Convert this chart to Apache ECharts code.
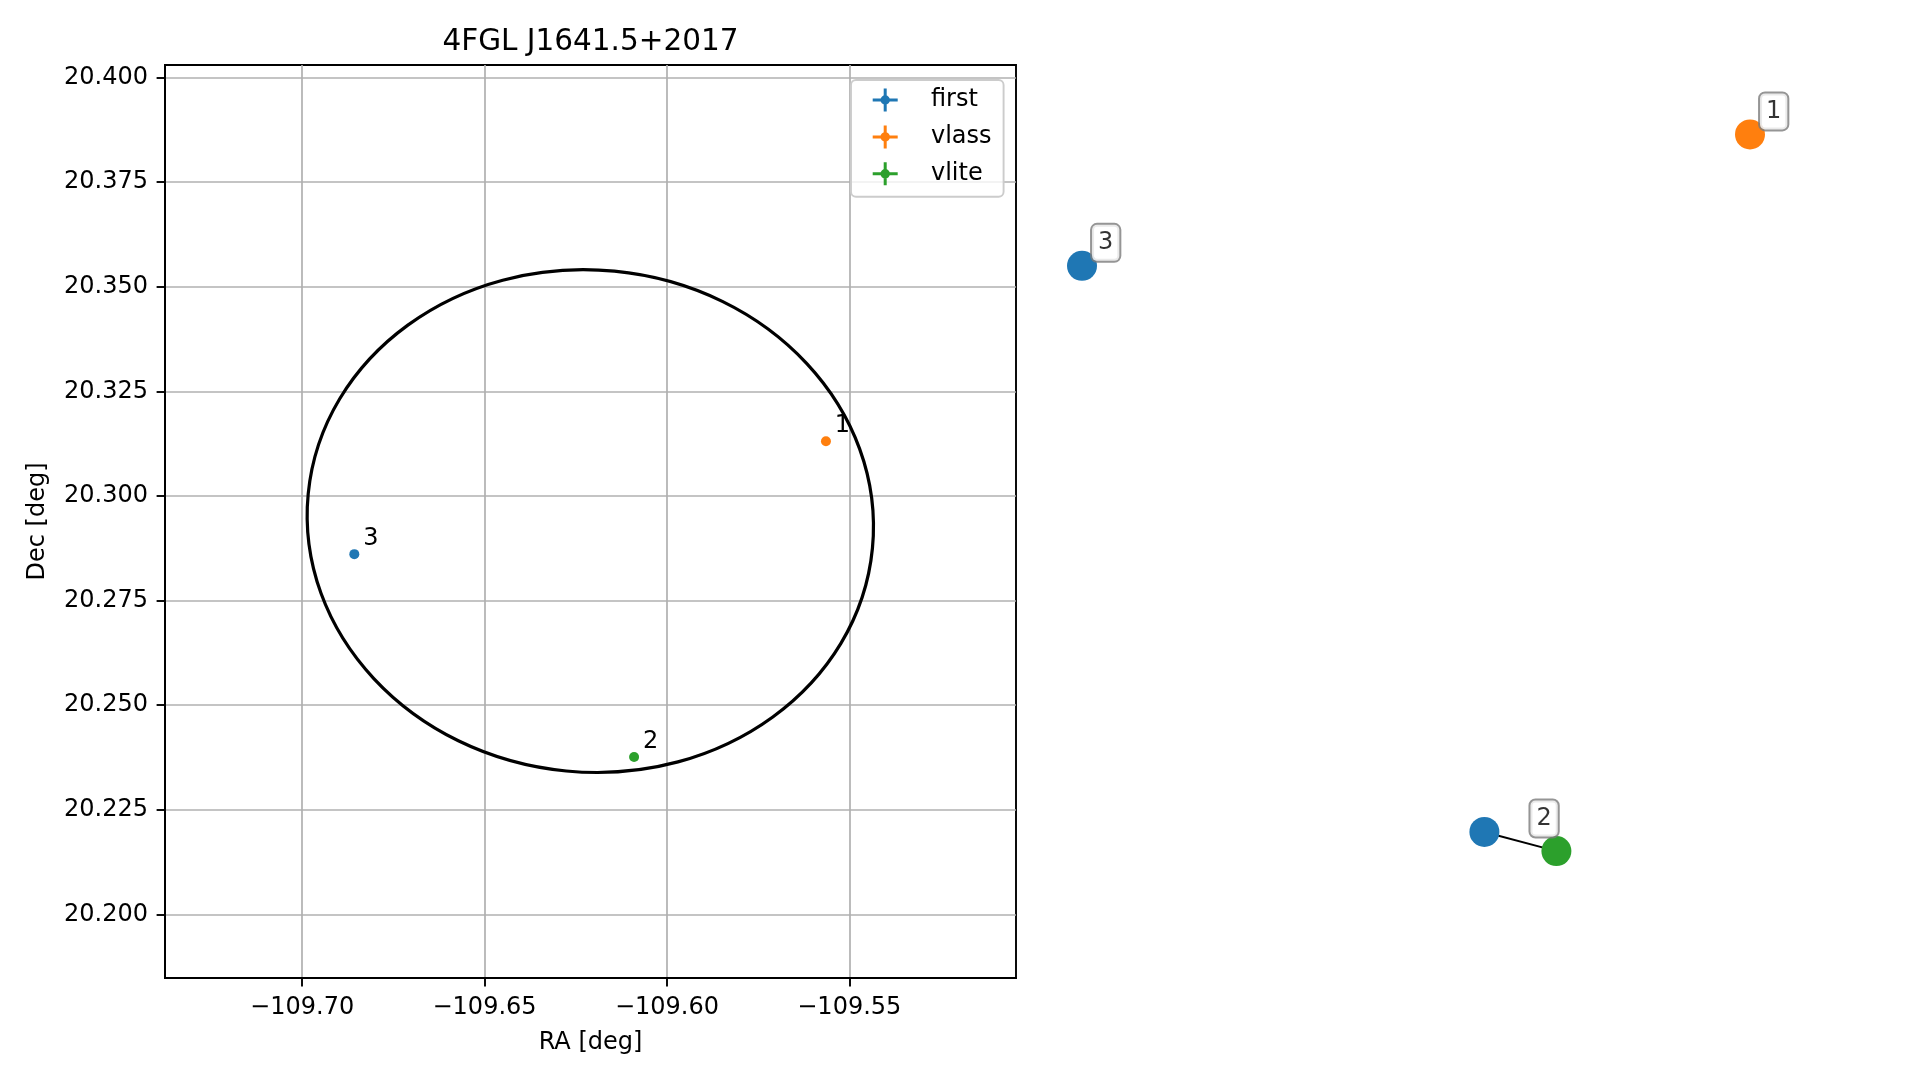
<!DOCTYPE html>
<html><head><meta charset="utf-8">
<script src="https://cdn.jsdelivr.net/npm/echarts@6/dist/echarts.min.js"></script>
<style>html,body{margin:0;padding:0;background:#fff}#c{width:1919px;height:1080px}</style>
</head><body><div id="c"></div>
<script>
// ---------- data ----------
const chartTitle = '4FGL J1641.5+2017';
const seriesNames = ['first', 'vlass', 'vlite'];
const seriesColors = ['#1f77b4', '#ff7f0e', '#2ca02c'];

// left panel: source positions (deg) and their match ids
const firstRA = [-109.6857];
const firstDec = [20.2861];
const firstIds = ['3'];
const vlassRA = [-109.5564];
const vlassDec = [20.3131];
const vlassIds = ['1'];
const vliteRA = [-109.6090];
const vliteDec = [20.2376];
const vliteIds = ['2'];

// axes
const raLimits = [-109.7376, -109.5043];
const decLimits = [20.1848, 20.4030];
const raTicks = [-109.70, -109.65, -109.60, -109.55];
const decTicks = [20.200, 20.225, 20.250, 20.275, 20.300, 20.325, 20.350, 20.375, 20.400];

// error ellipse (center RA, Dec; semi-axes in deg along RA, Dec; tilt in degrees, clockwise)
const ellipseCenter = [-109.6210, 20.2940];
const ellipseSemiAxes = [0.0777, 0.0600];
const ellipseTilt = [5.5];

// right panel: match-graph layout (arbitrary layout units 0..1)
const nodeX = [0.875, 0.040, 0.543, 0.633];
const nodeY = [0.924, 0.780, 0.160, 0.139];
const nodeCatalog = [1, 0, 0, 2];      // index into seriesNames
const nodeGroup = ['1', '3', '2', '2'];
const edgeFrom = [2];
const edgeTo = [3];

// ---------- build ----------
const FONT = 'DejaVu Sans';
function pts(ra, dec, ids) { return ra.map((r, i) => ({ value: [r, dec[i]], name: ids[i] })); }
const leftData = [pts(firstRA, firstDec, firstIds), pts(vlassRA, vlassDec, vlassIds), pts(vliteRA, vliteDec, vliteIds)];

const crossIcon = 'path://M0 40 H100 V52 H0 Z M44 0 H56 V92 H44 Z M31 46 A19 19 0 1 1 69 46 A19 19 0 1 1 31 46 Z';

const series = [];
series.push({
  type: 'custom', name: 'ellipse', xAxisIndex: 0, yAxisIndex: 0, silent: true, z: 3, clip: false,
  data: [[ellipseCenter[0], ellipseCenter[1], ellipseSemiAxes[0], ellipseSemiAxes[1], ellipseTilt[0]]],
  renderItem: function (params, api) {
    const c = api.coord([api.value(0), api.value(1)]);
    const s = api.size([api.value(2), api.value(3)]);
    return {
      type: 'ellipse', x: c[0], y: c[1], rotation: -api.value(4) * Math.PI / 180,
      shape: { cx: 0, cy: 0, rx: s[0], ry: s[1] },
      style: { fill: 'none', stroke: '#000', lineWidth: 3.2 }
    };
  }
});
seriesNames.forEach((n, k) => {
  series.push({
    type: 'scatter', name: n, xAxisIndex: 0, yAxisIndex: 0, z: 4,
    symbol: 'circle', symbolSize: 10,
    itemStyle: { color: seriesColors[k], opacity: 1 },
    label: { show: true, formatter: p => p.name, position: 'inside', offset: [16.5, -15.5],
             fontSize: 24, fontFamily: FONT, color: '#000' },
    data: leftData[k]
  });
});

// right panel
edgeFrom.forEach((a, i) => {
  const b = edgeTo[i];
  series.push({
    type: 'line', name: 'edge' + i, xAxisIndex: 1, yAxisIndex: 1, z: 2, symbol: 'none', silent: true,
    lineStyle: { color: '#000', width: 2 },
    data: [[nodeX[a], nodeY[a]], [nodeX[b], nodeY[b]]]
  });
});
series.push({
  type: 'scatter', name: 'nodes', xAxisIndex: 1, yAxisIndex: 1, z: 3, symbol: 'circle', symbolSize: 30,
  data: nodeX.map((x, i) => ({ value: [x, nodeY[i]], itemStyle: { color: seriesColors[nodeCatalog[i]], opacity: 1 } }))
});
const groups = [...new Set(nodeGroup)];
const groupData = groups.map(g => {
  const idx = nodeGroup.map((v, i) => v === g ? i : -1).filter(i => i >= 0);
  const mx = idx.reduce((s, i) => s + nodeX[i], 0) / idx.length;
  const my = idx.reduce((s, i) => s + nodeY[i], 0) / idx.length;
  return { value: [mx, my], name: g };
});
series.push({
  type: 'scatter', name: 'groupLabels', xAxisIndex: 1, yAxisIndex: 1, z: 5, symbolSize: 0, silent: true,
  label: {
    show: true, formatter: p => p.name, position: 'inside', offset: [23.7, -23],
    fontSize: 24, fontFamily: FONT, color: '#000', lineHeight: 24,
    backgroundColor: '#fff', borderColor: '#7a7a7a', borderWidth: 2, borderRadius: 5,
    padding: [6, 6, 6, 6]
  },
  data: groupData
});

const axisText = { fontSize: 24, fontFamily: FONT, color: '#000' };
const option = {
  animation: false,
  backgroundColor: '#fff',
  title: {
    text: chartTitle, left: 590.5, top: 27, textAlign: 'center', padding: 0,
    textStyle: { fontSize: 29.5, fontFamily: FONT, color: '#000', fontWeight: 'normal' }
  },
  legend: {
    orient: 'vertical', left: 851, top: 80, padding: [8, 12, 11, 21.7],
    itemWidth: 25, itemHeight: 23, itemGap: 12.9, selectedMode: false,
    backgroundColor: 'rgba(255,255,255,0.8)', borderColor: '#cccccc', borderWidth: 1.9, borderRadius: 5,
    textStyle: { fontSize: 24, fontFamily: FONT, color: '#000', padding: [0, 0, 0, 28.3] },
    data: seriesNames.map(n => ({ name: n, icon: crossIcon }))
  },
  grid: [
    { left: 165, top: 65, width: 851, height: 913, show: true, borderColor: '#000', borderWidth: 1.9, backgroundColor: 'transparent' },
    { left: 1050, top: 65, width: 800, height: 913, show: false }
  ],
  xAxis: [
    {
      type: 'value', gridIndex: 0, min: raLimits[0], max: raLimits[1], minInterval: 0.05, maxInterval: 0.05,
      name: 'RA [deg]', nameLocation: 'middle', nameGap: 52.5, nameTextStyle: axisText,
      axisLine: { show: true, onZero: false, lineStyle: { color: '#000', width: 1.9 } },
      axisTick: { show: true, customValues: raTicks, length: 8.4, lineStyle: { color: '#000', width: 1.9 } },
      axisLabel: { customValues: raTicks, formatter: v => '\u2212' + Math.abs(v).toFixed(2), margin: 17.5, ...axisText },
      splitLine: { show: true, lineStyle: { color: '#b0b0b0', width: 1.7 } }
    },
    { type: 'value', gridIndex: 1, min: 0, max: 1, show: false }
  ],
  yAxis: [
    {
      type: 'value', gridIndex: 0, min: decLimits[0], max: decLimits[1], minInterval: 0.025, maxInterval: 0.025,
      name: 'Dec [deg]', nameLocation: 'middle', nameGap: 115, nameTextStyle: axisText,
      axisLine: { show: true, onZero: false, lineStyle: { color: '#000', width: 1.9 } },
      axisTick: { show: true, customValues: decTicks, length: 8.4, lineStyle: { color: '#000', width: 1.9 } },
      axisLabel: { customValues: decTicks, formatter: v => v.toFixed(3), margin: 17, padding: [5, 0, 0, 0], ...axisText },
      splitLine: { show: true, lineStyle: { color: '#b0b0b0', width: 1.7 } }
    },
    { type: 'value', gridIndex: 1, min: 0, max: 1, show: false }
  ],
  series: series
};
const chart = echarts.init(document.getElementById('c'), null, { renderer: 'canvas' });
chart.setOption(option);
</script>
</body></html>
